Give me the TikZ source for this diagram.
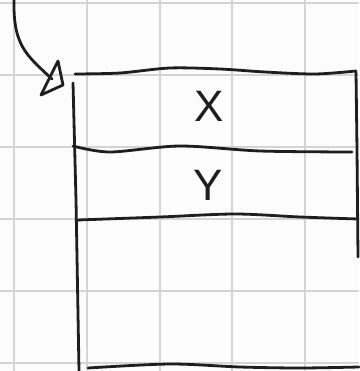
\documentclass[tikz,border=0pt]{standalone}
\usepackage{fontspec}
\setmainfont{Liberation Sans}
\usetikzlibrary{positioning}
\definecolor{gridgray}{HTML}{D4D4D4}
\definecolor{paper}{HTML}{FCFCFC}
\definecolor{ink}{HTML}{1E1E1E}
\tikzset{
  pen/.style={draw=ink, line width=2.8pt, line cap=round, line join=round},
  gridline/.style={draw=gridgray, line width=1.6pt},
  cell/.style={font=\fontsize{44}{44}\selectfont, text=ink, inner sep=0pt}
}
\begin{document}
\begin{tikzpicture}[x=1pt, y=-1pt]
    % Paper
    \fill[paper] (0,0) rectangle (359,371);
    \useasboundingbox (0,0) rectangle (359,371);

    % Grid
    \foreach \gx in {14,87,160,232,305}
        \draw[gridline] (\gx,0) -- (\gx,371);
    \foreach \gy in {3,75,147,219,291,363}
        \draw[gridline] (0,\gy) -- (359,\gy);

    % Stack frame
    \draw[pen] plot[smooth] coordinates {(75,74) (120,73) (170,68) (220,69) (265,72) (315,74) (356,71)};
    \draw[pen] (356,72) -- (357,150) -- (358,257);
    \draw[pen] (73,83) -- (76,200) -- (79,371);
    \draw[pen] plot[smooth] coordinates {(73,146) (110,152) (180,146) (260,151) (352,152)};
    \draw[pen] plot[smooth] coordinates {(78,220) (160,217) (235,214) (300,217) (358,219)};
    \draw[pen] plot[smooth] coordinates {(88,368) (170,364) (240,367) (300,368) (359,367)};

    % Cells
    \node[cell] (x) at (209,106) {X};
    \node[cell] (y) at (208,185) {Y};

    % Pointer
    \coordinate (start) at (14,0);
    \coordinate (tip) at (52,79);
    \draw[pen] (start) .. controls (13,45) and (26,55) .. (tip);
    \draw[pen] (58,61) -- (41,95) -- (63,85) -- cycle;
\end{tikzpicture}
\end{document}
